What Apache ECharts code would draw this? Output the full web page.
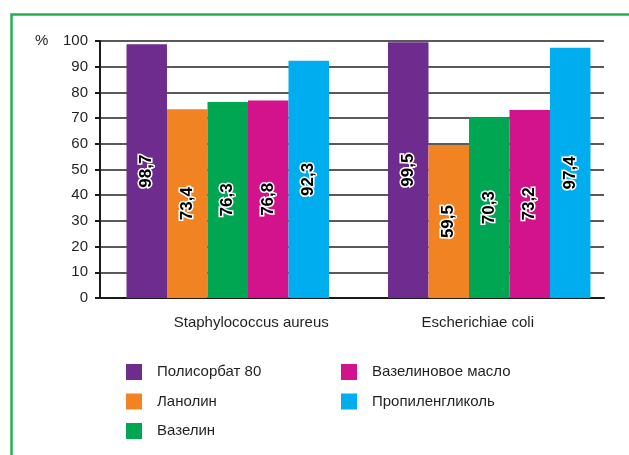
<!DOCTYPE html>
<html>
<head>
<meta charset="utf-8">
<script src="https://cdn.jsdelivr.net/npm/echarts@6/dist/echarts.min.js"></script>
<style>
  html, body { margin: 0; padding: 0; background: #ffffff; }
  #chart { width: 629px; height: 455px; }
</style>
</head>
<body>
<div id="chart"></div>
<script>
// Bacteria groups on the x axis
const categories = ['Staphylococcus aureus', 'Escherichiae coli'];

// One series per base substance, values in %
const seriesNames = ['Полисорбат 80', 'Ланолин', 'Вазелин', 'Вазелиновое масло', 'Пропиленгликоль'];
const polysorbate80 = [98.7, 99.5];
const lanolin = [73.4, 59.5];
const vaseline = [76.3, 70.3];
const vaselineOil = [76.8, 73.2];
const propyleneGlycol = [92.3, 97.4];

// Value axis range
const yMin = 0;
const yMax = 100;
const yStep = 10;
const yUnit = '%';

const seriesValues = [polysorbate80, lanolin, vaseline, vaselineOil, propyleneGlycol];
const colors = ['#6F2C8F', '#F28322', '#00A651', '#D2138C', '#00AEEF'];

const FONT = '"Liberation Sans", Arial, sans-serif';
const TEXT = '#231f20';

const chart = echarts.init(document.getElementById('chart'), null, { renderer: 'canvas' });

const plotTop = 41;
const plotHeight = 257;

const option = {
  animation: false,
  backgroundColor: '#ffffff',
  textStyle: { fontFamily: FONT },
  grid: [
    // axes and gridlines
    { left: 100, top: plotTop, width: 504, height: plotHeight },
    // bar groups
    { left: 97, top: plotTop, width: 523, height: plotHeight },
    // category captions
    { left: 138, top: plotTop, width: 453, height: plotHeight }
  ],
  xAxis: [
    {
      gridIndex: 0, type: 'category', data: categories,
      axisLine: { show: true, lineStyle: { color: '#1a1a1a', width: 2 } },
      axisTick: { show: false }, axisLabel: { show: false }, splitLine: { show: false }
    },
    {
      gridIndex: 1, type: 'category', data: categories, show: false
    },
    {
      gridIndex: 2, type: 'category', data: categories,
      axisLine: { show: false }, axisTick: { show: false }, splitLine: { show: false },
      axisLabel: { fontSize: 15, color: TEXT, fontFamily: FONT, margin: 17 }
    }
  ],
  yAxis: [
    {
      gridIndex: 0, type: 'value', min: yMin, max: yMax, interval: yStep,
      axisLine: { show: true, lineStyle: { color: '#1a1a1a', width: 2 } },
      axisTick: { show: true, length: 5, lineStyle: { color: '#1a1a1a', width: 2 } },
      axisLabel: { fontSize: 15, color: TEXT, fontFamily: FONT, margin: 12 },
      splitLine: { show: true, lineStyle: { color: '#222222', width: 1.7 } }
    },
    { gridIndex: 1, type: 'value', min: yMin, max: yMax, show: false },
    { gridIndex: 2, type: 'value', min: yMin, max: yMax, show: false }
  ],
  legend: [
    {
      data: seriesNames.slice(0, 3),
      orient: 'vertical', left: 126, top: 364, padding: 0,
      itemWidth: 16, itemHeight: 16, itemGap: 13.5, icon: 'rect',
      textStyle: { fontSize: 15, color: TEXT, fontFamily: FONT, padding: [0, 0, 0, 10] }
    },
    {
      data: seriesNames.slice(3),
      orient: 'vertical', left: 341, top: 364, padding: 0,
      itemWidth: 16, itemHeight: 16, itemGap: 13.5, icon: 'rect',
      textStyle: { fontSize: 15, color: TEXT, fontFamily: FONT, padding: [0, 0, 0, 10] }
    }
  ],
  graphic: [
    {
      // green frame around the figure
      type: 'rect', left: 9, top: 12, z: 0,
      shape: { width: 700, height: 600 },
      style: { fill: 'none', stroke: '#22B24C', lineWidth: 2.5 }
    },
    {
      type: 'text', left: 35, top: 33,
      style: { text: yUnit, fontSize: 15, fill: TEXT, fontFamily: FONT }
    }
  ],
  series: seriesNames.map((name, i) => ({
    name: name,
    type: 'bar',
    xAxisIndex: 1,
    yAxisIndex: 1,
    barWidth: 40.5,
    barGap: '0%',
    itemStyle: { color: colors[i] },
    label: {
      show: true,
      position: 'inside',
      rotate: 90,
      fontSize: 17,
      fontWeight: 'bold',
      fontFamily: FONT,
      color: '#000000',
      textBorderColor: '#ffffff',
      textBorderWidth: 3,
      formatter: p => String(p.value).replace('.', ',')
    },
    data: seriesValues[i]
  }))
};

chart.setOption(option);
</script>
</body>
</html>
